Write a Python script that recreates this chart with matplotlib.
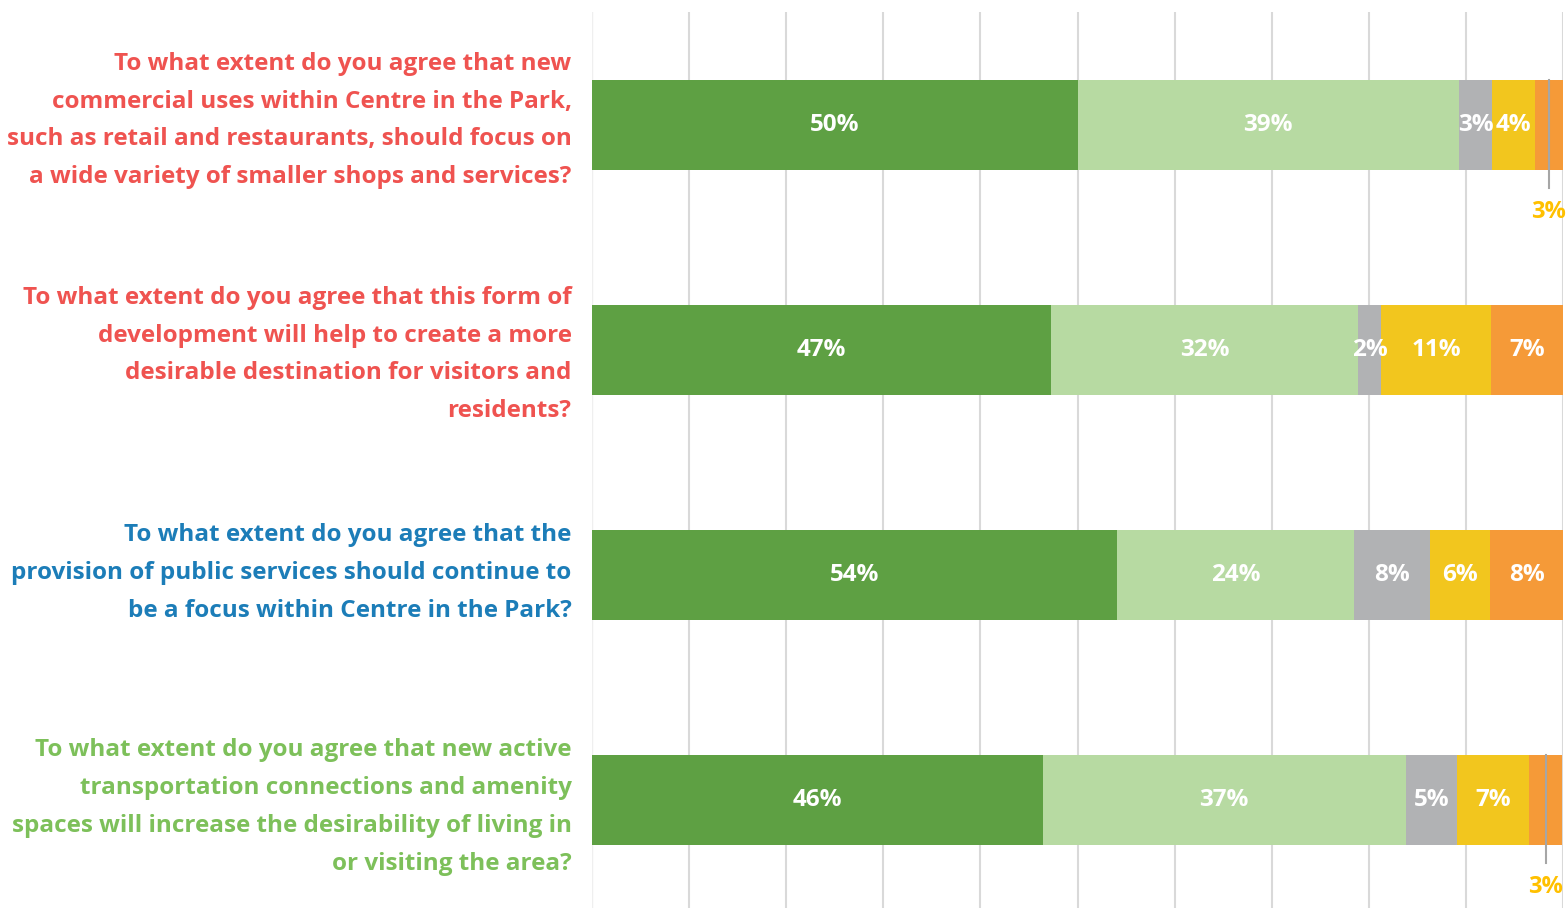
import matplotlib.pyplot as plt
import numpy as np

# survey questions, one row each (top to bottom)
questions = [
    "To what extent do you agree that new\ncommercial uses within Centre in the Park,\nsuch as retail and restaurants, should focus on\na wide variety of smaller shops and services?",
    "To what extent do you agree that this form of\ndevelopment will help to create a more\ndesirable destination for visitors and\nresidents?",
    "To what extent do you agree that the\nprovision of public services should continue to\nbe a focus within Centre in the Park?",
    "To what extent do you agree that new active\ntransportation connections and amenity\nspaces will increase the desirability of living in\nor visiting the area?",
]
question_colors = ["#EF5350", "#EF5350", "#1C7DB8", "#7DC05A"]

# response shares (%) per question
strongly_agree = [50.0, 47.3, 54.1, 46.4]
agree = [39.3, 31.6, 24.4, 37.4]
neutral = [3.4, 2.4, 7.8, 5.3]
disagree = [4.4, 11.3, 6.2, 7.4]
strongly_disagree = [2.9, 7.4, 7.5, 3.4]

series = [strongly_agree, agree, neutral, disagree, strongly_disagree]
colors = ["#5EA043", "#B7DAA2", "#B1B2B4", "#F2C61E", "#F59A38"]

plt.rcParams["font.family"] = ["Open Sans", "DejaVu Sans"]

fig = plt.figure(figsize=(15.67, 9.08), dpi=100)
ax = fig.add_axes([592 / 1567, 0, 971 / 1567, 896 / 908])

y = np.arange(len(questions))
left = np.zeros(len(questions))
for vals, col in zip(series, colors):
    vals = np.array(vals)
    ax.barh(y, vals, left=left, height=0.4, color=col, zorder=2)
    for i, v in enumerate(vals):
        cx = left[i] + v / 2
        if v < 4 and col == colors[-1]:
            # small slice: label under the bar with a leader line
            ax.plot([cx, cx], [y[i] - 0.2, y[i] + 0.28], color="#A6A6A6",
                    lw=1.5, zorder=3, clip_on=False)
            ax.text(cx, y[i] + 0.385, f"{v:.0f}%", color="#FFC000",
                    fontsize=17, fontweight="bold", ha="center", va="center",
                    clip_on=False)
        else:
            ax.text(cx, y[i], f"{v:.0f}%", color="white", fontsize=17.5,
                    fontweight="bold", ha="center", va="center", zorder=4)
    left += vals

ax.set_xlim(0, 100)
ax.set_ylim(3.48, -0.502)
ax.set_xticks(np.arange(10, 101, 10))
ax.xaxis.grid(True, color="#D9D9D9", lw=1.5, zorder=0)
ax.tick_params(length=0, labelbottom=False, labelleft=False)
ax.set_yticks([])
for s in ax.spines.values():
    s.set_visible(False)
ax.axvline(0, color="#EFEFEF", lw=1, zorder=0)

# vertical nudge of each question block
label_shift = [-0.02, 0.02, -0.01, 0.03]
for i, (q, c) in enumerate(zip(questions, question_colors)):
    ax.text(-0.021, y[i] + label_shift[i], q, transform=ax.get_yaxis_transform(),
            ha="right", va="center", ma="right", color=c, fontsize=17.5,
            fontweight="bold", linespacing=1.77)

fig.savefig("out.png", dpi=100)
